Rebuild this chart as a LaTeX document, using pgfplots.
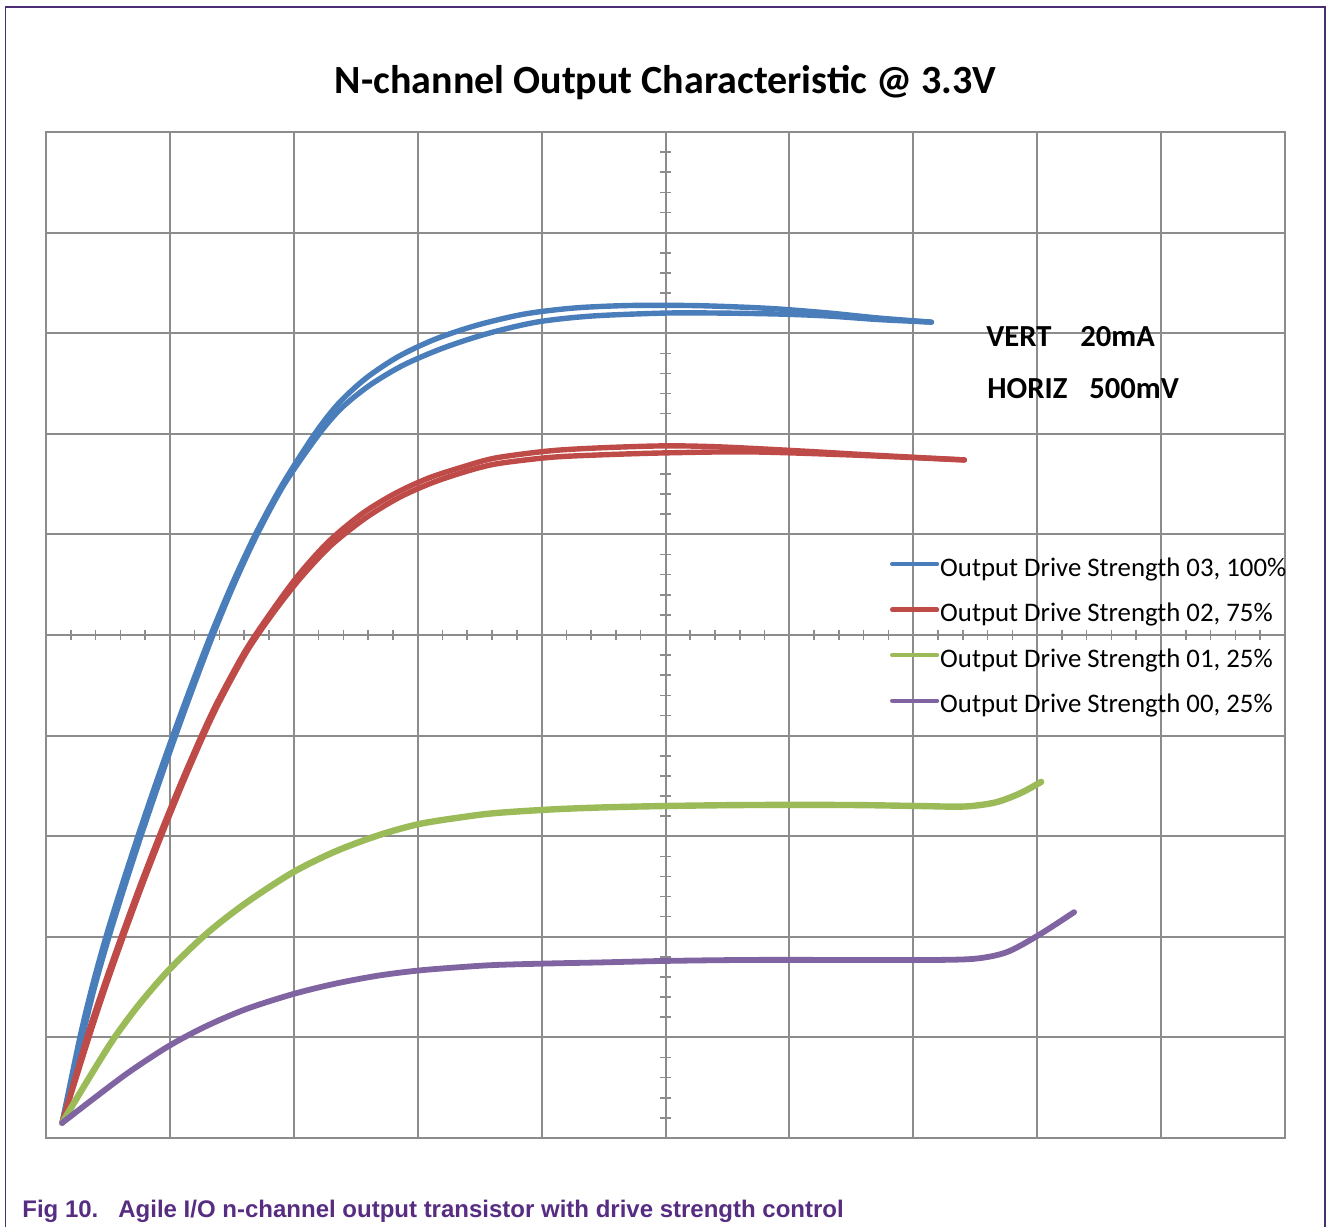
\documentclass[border=0pt]{standalone}
\usepackage{fontspec}
\setmainfont{Carlito}
\newfontfamily\capfont{Liberation Sans}
\usepackage{pgfplots}
\pgfplotsset{compat=1.18}
\definecolor{gridgray}{RGB}{140,140,140}
\definecolor{cblue}{RGB}{74,126,187}
\definecolor{cred}{RGB}{190,75,72}
\definecolor{cgreen}{RGB}{155,187,89}
\definecolor{cpurple}{RGB}{128,100,162}
\definecolor{capcol}{RGB}{87,45,130}
\definecolor{framecol}{RGB}{75,45,115}
\begin{document}
\begin{tikzpicture}
\useasboundingbox (0,0) rectangle (663.5pt,613pt);
\draw[framecol, line width=0.7pt] (2.75pt,-1pt) -- (2.75pt,609.5pt) -- (662.5pt,609.5pt) -- (662.5pt,-1pt);
\begin{axis}[
  at={(23pt,44pt)}, anchor=south west, scale only axis,
  width=619.5pt, height=503pt,
  xmin=0, xmax=5, ymin=0, ymax=200,
  xtick={0,0.5,...,5}, ytick={0,20,...,200},
  xticklabels={}, yticklabels={},
  major tick length=0pt,
  grid=major, grid style={gridgray, line width=1pt},
  axis line style={gridgray, line width=1pt},
  legend style={at={(axis description cs:0.6812,0.5785)}, anchor=north west,
    draw=none, fill=none, inner sep=0pt, outer sep=0pt,
    row sep=9.8pt, column sep=0.5pt,
    font=\fontsize{13.4pt}{16pt}\selectfont,
    nodes={inner sep=0pt, text height=10pt, text depth=3pt}},
  legend cell align=left,
  legend image code/.code={\draw[line width=2.2pt, line cap=round] (0.6pt,2.5pt) -- (23pt,2.5pt);},
]
\pgfplotsinvokeforeach{0.1,0.2,...,4.95}{\draw[gridgray,line width=0.8pt] (axis cs:#1,100) ++(0,-2.6pt) -- ++(0,5.2pt);}
\pgfplotsinvokeforeach{4,8,...,196}{\draw[gridgray,line width=0.8pt] (axis cs:2.5,#1) ++(-2.6pt,0) -- ++(5.2pt,0);}

% Drive strength 03 (blue), two traces
\addplot[cblue, line width=2.7pt, smooth, line cap=round] coordinates {
(0.065,3) (0.137,20) (0.186,30) (0.242,40) (0.305,50) (0.371,60) (0.440,70) (0.512,80) (0.587,90) (0.665,100) (0.750,110) (0.845,120) (0.955,130) (1.085,140) (1.180,146) (1.290,151) (1.420,155.3) (1.570,158.8) (1.740,161.6) (1.930,163.8) (2.130,165.0) (2.350,165.5) (2.600,165.5) (2.800,165.2) (2.960,164.8) (3.161,164.0) (3.363,163.0) (3.573,162.2)};
\addlegendentry{Output Drive Strength 03, 100\%}
\addplot[cblue, line width=2.7pt, smooth, line cap=round, forget plot] coordinates {
(0.065,3) (0.146,20) (0.196,30) (0.254,40) (0.317,50) (0.383,60) (0.452,70) (0.523,80) (0.597,90) (0.674,100) (0.758,110) (0.852,120) (0.962,130) (1.095,139.5) (1.190,145) (1.305,149.6) (1.440,153.6) (1.600,157.0) (1.780,159.9) (1.980,162.2) (2.200,163.4) (2.500,164.0) (2.718,164.0) (2.960,163.8) (3.161,163.4) (3.363,162.7) (3.573,162.2)};

% Drive strength 02 (red), two traces
\addplot[cred, line width=2.7pt, smooth, line cap=round] coordinates {
(0.065,3) (0.165,20) (0.232,30) (0.300,39.5) (0.382,50.5) (0.465,61) (0.548,71) (0.632,80.5) (0.698,87.3) (0.806,97.0) (0.915,105.0) (1.020,112.0) (1.141,118.6) (1.278,124.2) (1.411,128.2) (1.544,131.2) (1.681,133.4) (1.815,135.2) (2.032,136.6) (2.234,137.2) (2.496,137.6) (2.718,137.4) (3.040,136.6) (3.323,135.8) (3.706,134.8)};
\addlegendentry{Output Drive Strength 02, 75\%}
\addplot[cred, line width=2.7pt, smooth, line cap=round, forget plot] coordinates {
(0.065,3) (0.173,20) (0.240,30) (0.308,39.5) (0.390,50.5) (0.473,61) (0.556,71) (0.640,80.5) (0.706,87.3) (0.814,97.0) (0.923,104.8) (1.030,111.5) (1.150,117.8) (1.288,123.2) (1.420,127.2) (1.550,130.1) (1.681,132.3) (1.815,134.0) (2.032,135.3) (2.234,135.8) (2.496,136.2) (2.839,136.4) (3.242,135.8) (3.706,134.8)};

% Drive strength 01 (green)
\addplot[cgreen, line width=3.2pt, smooth, line cap=round] coordinates {
(0.065,3) (0.161,10.9) (0.270,19.5) (0.375,26.5) (0.496,33.4) (0.645,40.5) (0.806,46.7) (0.996,52.8) (1.169,57.0) (1.343,60.2) (1.504,62.4) (1.681,63.8) (1.815,64.6) (2.032,65.3) (2.234,65.7) (2.496,66.0) (2.839,66.2) (3.242,66.2) (3.524,66.0) (3.706,65.9) (3.830,66.7) (3.930,68.5) (4.016,70.8)};
\addlegendentry{Output Drive Strength 01, 25\%}

% Drive strength 00 (purple)
\addplot[cpurple, line width=2.9pt, smooth, line cap=round] coordinates {
(0.065,3) (0.202,8.2) (0.335,13.1) (0.496,18.3) (0.645,22.2) (0.806,25.6) (0.996,28.6) (1.169,30.7) (1.343,32.3) (1.504,33.3) (1.681,34.0) (1.815,34.4) (2.032,34.7) (2.234,34.9) (2.496,35.2) (2.839,35.4) (3.242,35.4) (3.600,35.4) (3.760,35.7) (3.880,37.0) (4.008,40.4) (4.149,44.9)};
\addlegendentry{Output Drive Strength 00, 25\%}
\end{axis}

\node[anchor=base, inner sep=0pt, font=\fontsize{20pt}{24pt}\selectfont\bfseries] at (332.75pt,566pt) {N-channel Output Characteristic @ 3.3V};
\begin{scope}[every node/.style={anchor=base west, inner sep=0pt, font=\fontsize{15.3pt}{18pt}\selectfont\bfseries}]
\node at (493pt,439.5pt) {VERT};
\node at (540pt,439.5pt) {20mA};
\node at (493.5pt,413.5pt) {HORIZ};
\node at (544.5pt,413.5pt) {500mV};
\end{scope}
\begin{scope}[every node/.style={anchor=base west, inner sep=0pt, text=capcol, font=\capfont\fontsize{12pt}{14pt}\selectfont\bfseries}]
\node at (11pt,4.5pt) {Fig 10.};
\node at (59pt,4.5pt) {Agile I/O n-channel output transistor with drive strength control};
\end{scope}
\end{tikzpicture}
\end{document}
